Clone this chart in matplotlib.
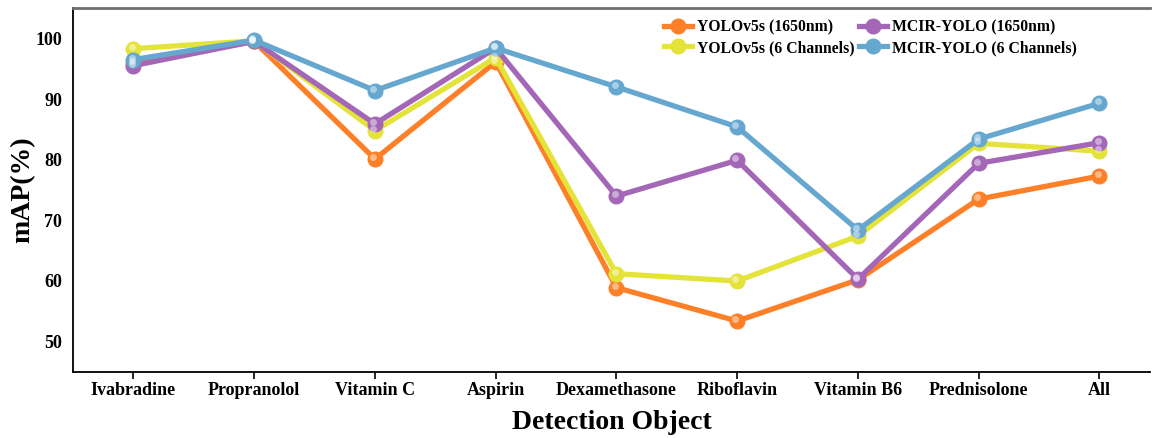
import numpy as np
import matplotlib.pyplot as plt
from matplotlib.transforms import ScaledTranslation

plt.rcParams['font.family'] = ['Liberation Serif', 'DejaVu Serif']
plt.rcParams['font.weight'] = 'bold'

objects = ["Ivabradine", "Propranolol", "Vitamin C", "Aspirin", "Dexamethasone",
           "Riboflavin", "Vitamin B6", "Prednisolone", "All"]

yolo_1650 = [96.0, 99.5, 80.1, 96.1, 58.9, 53.4, 60.2, 73.5, 77.3]
yolo_6ch = [98.3, 99.6, 84.8, 96.8, 61.2, 60.0, 67.4, 82.7, 81.4]
mcir_1650 = [95.5, 99.5, 85.9, 98.4, 74.0, 79.9, 60.3, 79.4, 82.8]
mcir_6ch = [96.5, 99.7, 91.4, 98.4, 92.0, 85.4, 68.4, 83.4, 89.3]

series = [
    ("YOLOv5s (1650nm)", yolo_1650, "#fd7f28"),
    ("YOLOv5s (6 Channels)", yolo_6ch, "#e4e33a"),
    ("MCIR-YOLO (1650nm)", mcir_1650, "#a466b6"),
    ("MCIR-YOLO (6 Channels)", mcir_6ch, "#66a7d0"),
]

fig = plt.figure(figsize=(11.52, 4.38), dpi=100)
ax = fig.add_axes([0.0634, 0.1507, 0.935, 0.831])

x = np.arange(len(objects))
# shift for the small highlight on each marker
hl = ax.transData + ScaledTranslation(-1.3 / 72, 1.3 / 72, fig.dpi_scale_trans)
handles = []
for name, vals, col in series:
    h, = ax.plot(x, vals, '-o', color=col, lw=3.8, ms=10.5, label=name, zorder=3)
    ax.plot(x, vals, 'o', color='white', alpha=0.45, ms=5, mec='none',
            transform=hl, zorder=4)
    handles.append(h)

ax.set_xlim(-0.5, 8.42)
ax.set_ylim(45, 105)
ax.set_yticks([50, 60, 70, 80, 90, 100])
ax.set_xticks(x)
ax.set_xticklabels(objects)
ax.tick_params(axis='x', direction='out', length=5, width=1.2, labelsize=13, pad=2)
ax.tick_params(axis='y', length=0, labelsize=13, pad=8)
for lab in ax.get_xticklabels() + ax.get_yticklabels():
    lab.set_fontweight('bold')

ax.set_xlabel("Detection Object", fontsize=20, fontweight='bold', labelpad=8)
ax.set_ylabel("mAP(%)", fontsize=20, fontweight='bold', labelpad=0)

ax.spines['left'].set_linewidth(1.3)
ax.spines['bottom'].set_linewidth(1.3)
ax.spines['top'].set_color('#6e6e6e')
ax.spines['top'].set_linewidth(2)
ax.spines['right'].set_visible(False)

ax.legend(handles=handles, ncol=2, frameon=False, loc='upper right',
          bbox_to_anchor=(0.945, 1.008), prop={'size': 11.3, 'weight': 'bold'},
          handlelength=1.8, columnspacing=0.3, handletextpad=0.3, labelspacing=0.3)

fig.savefig("out.png", dpi=100)
